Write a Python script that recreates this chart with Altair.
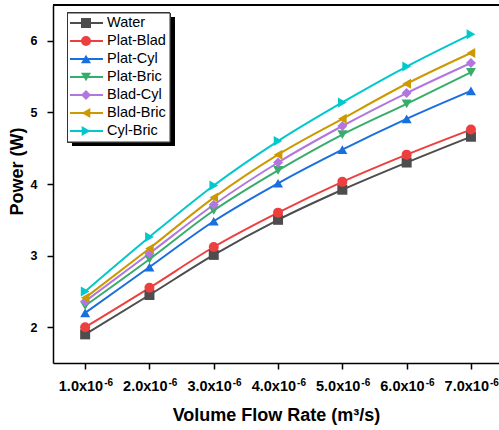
import altair as alt
import pandas as pd

# ---------------- data ----------------
flow = [1, 2, 3, 4, 5, 6, 7]  # x 10^-6 m^3/s
series_names = ["Water", "Plat-Blad", "Plat-Cyl", "Plat-Bric", "Blad-Cyl", "Blad-Bric", "Cyl-Bric"]
water = [1.90, 2.45, 3.01, 3.50, 3.92, 4.30, 4.66]
plat_blad = [2.00, 2.55, 3.12, 3.60, 4.03, 4.41, 4.76]
plat_cyl = [2.20, 2.84, 3.48, 4.01, 4.48, 4.91, 5.30]
plat_bric = [2.30, 2.95, 3.63, 4.19, 4.69, 5.12, 5.56]
blad_cyl = [2.36, 3.03, 3.71, 4.30, 4.81, 5.27, 5.69]
blad_bric = [2.41, 3.10, 3.81, 4.41, 4.91, 5.40, 5.83]
cyl_bric = [2.50, 3.26, 3.98, 4.60, 5.14, 5.64, 6.09]
x_tick_labels = ["1.0x10", "2.0x10", "3.0x10", "4.0x10", "5.0x10", "6.0x10", "7.0x10"]
x_tick_exp = ["-6"] * 7

colors = ["#4d4d4d", "#ee3f3f", "#1a6fdf", "#37ad6b", "#b177de", "#cc9900", "#00c8cc"]
shapes = ["square", "circle", "triangle-up", "triangle-down", "diamond", "triangle-left", "triangle-right"]

all_series = [water, plat_blad, plat_cyl, plat_bric, blad_cyl, blad_bric, cyl_bric]
rows = []
for i, (name, vals) in enumerate(zip(series_names, all_series)):
    for f, v in zip(flow, vals):
        rows.append({"series": name, "order": i, "flow": f, "power": v})
df = pd.DataFrame(rows)
ticks_df = pd.DataFrame({"flow": flow, "lab": x_tick_labels, "sup": x_tick_exp})
leg_df = pd.DataFrame({"series": series_names, "idx": list(range(len(series_names)))})

# ---------------- layout ----------------
W, H = 446, 358
FONT = "Liberation Sans"

xscale = alt.Scale(domain=[0.5, 0.5 + W / 64.3], nice=False, zero=False)
yscale = alt.Scale(domain=[1.5, 6.5], nice=False, zero=False)
cscale = alt.Scale(domain=series_names, range=colors)
sscale = alt.Scale(domain=series_names, range=shapes)

x_vals = [1 + 0.5 * k for k in range(13)]
y_vals = [2 + 0.5 * k for k in range(10)]
minor_size = {"condition": {"test": "datum.value % 1 !== 0", "value": 3.5}, "value": 6}

x_axis = alt.Axis(
    values=x_vals, labels=False, tickSize=minor_size, tickColor="black", tickWidth=1.5,
    domainColor="black", domainWidth=1.5, grid=False,
    title="Volume Flow Rate (m³/s)", titleFont=FONT, titleFontSize=18, titleFontWeight="bold",
    titleColor="black", titleY=57, titleBaseline="alphabetic",
)
y_axis = alt.Axis(
    values=y_vals, format=".0f", labelExpr="datum.value % 1 === 0 ? datum.label : ''",
    tickSize=minor_size, tickColor="black", tickWidth=1.5,
    domainColor="black", domainWidth=1.5, grid=False,
    labelFont=FONT, labelFontSize=12.5, labelFontWeight="bold", labelColor="black", labelPadding=10,
    title="Power (W)", titleFont=FONT, titleFontSize=18, titleFontWeight="bold", titleColor="black",
    titleAngle=270, titleX=-31, titleY=166, titleBaseline="alphabetic", titleAlign="center",
)

base = alt.Chart(df)
lines = base.mark_line(strokeWidth=2, interpolate="monotone").encode(
    x=alt.X("flow:Q", scale=xscale, axis=x_axis),
    y=alt.Y("power:Q", scale=yscale, axis=y_axis),
    color=alt.Color("series:N", scale=cscale, legend=None),
    detail="series:N",
    order="order:Q",
)
points = base.mark_point(filled=True, size=100, opacity=1).encode(
    x=alt.X("flow:Q", scale=xscale),
    y=alt.Y("power:Q", scale=yscale),
    color=alt.Color("series:N", scale=cscale, legend=None),
    shape=alt.Shape("series:N", scale=sscale, legend=None),
    order="order:Q",
)
top_rule = alt.Chart(ticks_df).mark_rule(color="black", strokeWidth=1.5).encode(
    x=alt.value(0), x2=alt.value(W), y=alt.value(0)
)
tick_lab = alt.Chart(ticks_df).mark_text(
    align="right", baseline="alphabetic", dx=18, font=FONT, fontSize=14.5, fontWeight="bold", color="black"
).encode(x=alt.X("flow:Q", scale=xscale), y=alt.value(H + 28), text="lab:N")
tick_sup = alt.Chart(ticks_df).mark_text(
    align="left", baseline="alphabetic", dx=19, font=FONT, fontSize=10, fontWeight="bold", color="black"
).encode(x=alt.X("flow:Q", scale=xscale), y=alt.value(H + 23), text="sup:N")

data_layer = alt.layer(lines, points, top_rule, tick_lab, tick_sup)

# ---------------- legend ----------------
leg = alt.Chart(leg_df).transform_calculate(ly="18 + 18 * datum.idx")
shadow = alt.Chart(ticks_df).mark_rect(color="black").encode(
    x=alt.value(19), x2=alt.value(122), y=alt.value(12), y2=alt.value(141)
)
box = alt.Chart(ticks_df).mark_rect(fill="white", stroke="#333333", strokeWidth=1).encode(
    x=alt.value(14.5), x2=alt.value(117), y=alt.value(8), y2=alt.value(137)
)
leg_lines = leg.mark_rule(strokeWidth=2).encode(
    x=alt.value(17), x2=alt.value(50), y=alt.Y("ly:Q", scale=None, axis=None),
    color=alt.Color("series:N", scale=cscale, legend=None),
)
leg_points = leg.mark_point(filled=True, size=100, opacity=1).encode(
    x=alt.value(33), y=alt.Y("ly:Q", scale=None, axis=None),
    color=alt.Color("series:N", scale=cscale, legend=None),
    shape=alt.Shape("series:N", scale=sscale, legend=None),
)
leg_text = leg.mark_text(align="left", baseline="middle", font=FONT, fontSize=14.5, color="black").encode(
    x=alt.value(54), y=alt.Y("ly:Q", scale=None, axis=None), text="series:N"
)
legend_layer = alt.layer(shadow, box, leg_lines, leg_points, leg_text)

chart = (
    alt.layer(data_layer, legend_layer)
    .resolve_scale(x="independent", y="independent")
    .properties(
        width=W, height=H, autosize="none",
        padding={"left": 53, "top": 5, "right": 0, "bottom": 67},
        background="white",
    )
    .configure_view(stroke=None)
)

chart.save("out.html", embed_options={"renderer": "svg", "actions": False})
